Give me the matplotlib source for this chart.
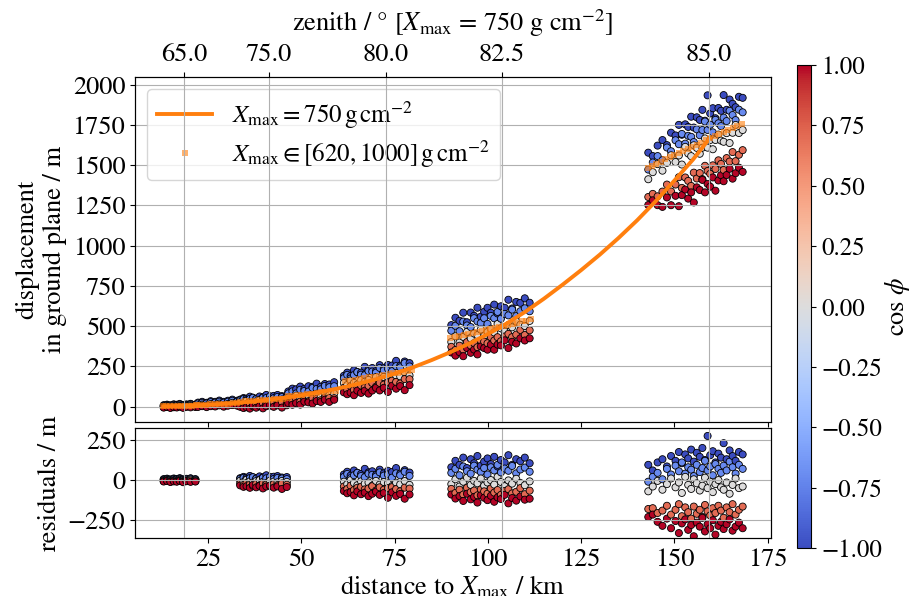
import numpy as np
import matplotlib
matplotlib.use("Agg")
import matplotlib.pyplot as plt
from matplotlib.ticker import FuncFormatter

plt.rcParams['font.family'] = ['STIXGeneral', 'DejaVu Serif']
plt.rcParams['mathtext.fontset'] = 'stix'
plt.rcParams['font.size'] = 19

# ---------------- data ----------------
cos_levels = [-1.0, -0.707, 0.0, 0.707, 1.0]

zenith_pos = [18.6, 41.3, 72.7, 103.8, 159.2]
zenith_labels = ["65.0", "75.0", "80.0", "82.5", "85.0"]

curve_dist = [13, 16, 20, 25, 30, 35, 40, 45, 50, 55, 60, 65, 70, 75, 80, 85, 90, 95,
              100, 105, 110, 115, 120, 125, 130, 135, 140, 145, 150, 155, 159.5]
curve_disp = [2, 4, 7, 12, 19, 28, 40, 54, 71, 91, 114, 140, 170, 205, 245, 290, 339, 392,
              451, 516, 589, 670, 757, 848, 944, 1047, 1157, 1276, 1404, 1535, 1668]

# cluster A (zenith 65)
A_dist = [13.1, 14.0, 14.9, 15.8, 16.6, 17.4, 18.3, 19.2, 20.3, 21.6]
A_sq_dist = [12.8, 13.8, 14.8, 15.8, 16.8, 17.8, 18.8, 19.8, 20.8, 21.8]
A_sq_disp = [3, 3.5, 4, 4.5, 5, 5.5, 6, 6.5, 7, 7.5]
A_res_m1 = [6, 9, 4, 10, 7, 12, 5, 8, 11, 6]
A_res_m07 = [3, 6, 2, 7, 4, 8, 1, 5, 9, 3]
A_res_0 = [-2, 1, -4, 0, -3, 2, -5, -1, 3, -2]
A_res_p07 = [-6, -3, -8, -4, -7, -2, -9, -5, -3, -7]
A_res_p1 = [-9, -6, -12, -8, -10, -5, -13, -7, -11, -9]

# cluster B (main panel only)
B_dist = [22.3, 23.4, 24.6, 25.7, 26.9, 28.0, 29.2, 30.3, 31.5, 32.8]
B_sq_dist = [22.0, 23.2, 24.4, 25.6, 26.8, 28.0, 29.2, 30.4, 31.6, 32.8]
B_sq_disp = [11, 12, 13, 14, 15, 16, 17, 18, 20, 21]
B_res_m1 = [14, 18, 11, 20, 15, 22, 13, 19, 24, 16]
B_res_m07 = [9, 12, 7, 14, 10, 15, 8, 13, 17, 11]
B_res_0 = [-3, 1, -6, 2, -4, 3, -7, -1, 4, -2]
B_res_p07 = [-9, -5, -12, -7, -10, -4, -13, -8, -6, -11]
B_res_p1 = [-13, -9, -16, -11, -14, -8, -17, -12, -10, -15]

# cluster C (zenith 75)
C_dist = [33.6, 34.5, 35.3, 36.2, 37.0, 37.9, 38.8, 39.7, 40.6, 41.6, 42.6, 43.6, 44.8, 46.1]
C_sq_dist = [33.5, 34.8, 36.1, 37.4, 38.7, 40.0, 41.3, 42.6, 43.9, 45.2, 46.3]
C_sq_disp = [32, 34, 36, 38, 40, 42, 44, 46, 48, 50, 52]
C_res_m1 = [12, 20, 15, 26, 18, 10, 23, 17, 30, 14, 21, 25, 16, 19]
C_res_m07 = [8, 14, 5, 12, 18, 9, 3, 15, 11, 20, 7, 13, 10, 6]
C_res_0 = [-4, -12, 2, -8, -15, -6, 0, -10, -18, -3, -9, -14, -5, -11]
C_res_p07 = [-22, -30, -18, -27, -35, -24, -32, -20, -28, -38, -25, -31, -21, -29]
C_res_p1 = [-33, -42, -38, -48, -30, -45, -36, -52, -40, -34, -47, -39, -55, -43]

# cluster D (main panel only)
D_dist = [46.5, 47.6, 48.6, 49.7, 50.8, 51.9, 53.0, 54.1, 55.2, 56.3, 57.5, 58.8]
D_sq_dist = [46.3, 47.6, 48.9, 50.2, 51.5, 52.8, 54.1, 55.4, 56.7, 58.0, 59.2]
D_sq_disp = [64, 67, 71, 74, 78, 81, 85, 88, 92, 95, 98]
D_res_m1 = [30, 45, 38, 52, 35, 48, 42, 58, 36, 50, 44, 55]
D_res_m07 = [18, 28, 12, 32, 22, 15, 35, 25, 20, 38, 27, 30]
D_res_0 = [-8, -20, -2, -15, -25, -10, -18, -5, -28, -12, -22, -16]
D_res_p07 = [-28, -38, -24, -42, -32, -45, -30, -36, -48, -34, -40, -44]
D_res_p1 = [-42, -55, -48, -60, -45, -52, -62, -50, -58, -47, -64, -54]

# cluster E (zenith 80)
E_dist = [61.4, 62.3, 63.2, 64.1, 65.0, 66.0, 67.0, 68.0, 69.0, 70.0, 71.0, 72.1, 73.2,
          74.3, 75.4, 76.5, 77.7, 79.0]
E_sq_dist = [61.7, 63.0, 64.3, 65.6, 66.9, 68.2, 69.5, 70.8, 72.1, 73.4, 74.7, 76.0, 77.3,
             78.6, 79.6]
E_sq_disp = [157, 162, 167, 172, 177, 182, 187, 192, 197, 202, 207, 212, 217, 222, 226]
E_res_m1 = [35, 52, 28, 60, 45, 38, 70, 48, 55, 32, 65, 42, 58, 50, 75, 40, 62, 47]
E_res_m07 = [20, 38, 12, 30, 45, 25, 18, 40, 33, 22, 48, 28, 35, 15, 42, 30, 52, 26]
E_res_0 = [-10, -25, 0, -18, -32, -8, -22, -15, -35, -5, -28, -12, -20, -38, -16, -26, -6, -30]
E_res_p07 = [-40, -55, -35, -62, -48, -42, -58, -52, -38, -65, -45, -60, -50, -44, -56, -70, -47, -53]
E_res_p1 = [-68, -82, -75, -95, -70, -88, -78, -100, -85, -72, -92, -80, -110, -76, -98, -86, -116, -90]

# cluster F (zenith 82.5)
F_dist = [90.2, 91.3, 92.4, 93.4, 94.4, 95.4, 96.3, 97.2, 98.1, 99.0, 99.9, 100.8, 101.7,
          102.6, 103.5, 104.5, 105.5, 106.5, 107.6, 108.7, 109.9, 111.2]
F_sq_dist = [89.9, 91.1, 92.3, 93.5, 94.7, 95.9, 97.1, 98.3, 99.5, 100.7, 101.9, 103.1, 104.3,
             105.5, 106.7, 107.9, 109.1, 110.3, 111.6]
F_sq_disp = [425, 431, 438, 444, 451, 457, 464, 470, 477, 483, 490, 496, 503, 509, 516, 522,
             529, 535, 543]
F_res_m1 = [80, 120, 95, 140, 75, 130, 105, 150, 90, 115, 135, 100, 145, 85, 125, 110, 155,
            95, 130, 118, 140, 105]
F_res_m07 = [45, 70, 30, 85, 55, 40, 90, 65, 50, 75, 35, 80, 60, 95, 48, 72, 58, 88, 42, 66,
             78, 52]
F_res_0 = [-25, 5, -40, -10, 15, -30, -5, -20, 10, -35, -15, 0, -28, 20, -12, -38, -2, -22,
           8, -18, -32, -8]
F_res_p07 = [-55, -80, -60, -90, -48, -75, -65, -95, -58, -70, -85, -52, -78, -62, -92, -68,
             -57, -83, -73, -50, -88, -66]
F_res_p1 = [-90, -115, -100, -130, -85, -120, -105, -140, -95, -110, -125, -98, -135, -108,
            -118, -92, -145, -112, -128, -102, -122, -116]

# cluster G (zenith 85)
G_dist = [143.0, 144.2, 145.5, 146.8, 148.0, 149.1, 150.3, 151.2, 152.0, 152.9, 153.7, 154.5,
          155.2, 156.0, 156.8, 157.5, 158.2, 158.9, 159.6, 160.3, 161.0, 161.8, 162.5, 163.2,
          164.0, 164.8, 165.6, 166.4, 167.3, 168.3]
G_sq_dist = [142.8, 144.0, 145.2, 146.4, 147.6, 148.8, 150.0, 151.2, 152.4, 153.6, 154.8,
             156.0, 157.2, 158.4, 159.6, 160.8, 162.0, 163.2, 164.4, 165.6, 166.8, 168.1]
G_sq_disp = [1480, 1494, 1508, 1521, 1535, 1548, 1561, 1575, 1588, 1601, 1614, 1627, 1640,
             1653, 1666, 1679, 1692, 1705, 1718, 1731, 1744, 1758]
G_res_m1 = [95, 60, 110, 130, 85, 150, 120, 175, 105, 160, 135, 190, 115, 170, 145, 200, 125,
            275, 155, 180, 110, 165, 140, 230, 130, 185, 150, 120, 175, 160]
G_res_m07 = [-10, 20, 45, 5, 70, 35, 90, 55, 110, 40, 80, 65, 25, 95, 50, 75, 120, 60, 85, 30,
             100, 70, 45, 90, 60, 115, 80, 40, 95, 70]
G_res_0 = [-70, -40, -5, -60, -25, 10, -45, -15, -80, 20, -30, -55, 5, -20, -65, -35, 15, -50,
           -10, -75, -25, 0, -45, -60, -15, -85, -30, 10, -50, -40]
G_res_p07 = [-180, -175, -205, -190, -160, -215, -185, -150, -225, -170, -200, -240, -165, -210,
             -185, -230, -155, -195, -220, -175, -205, -160, -190, -235, -170, -200, -150, -215,
             -185, -165]
G_res_p1 = [-230, -215, -260, -285, -240, -300, -255, -330, -270, -245, -310, -280, -350, -265,
            -290, -235, -320, -275, -300, -250, -340, -285, -260, -305, -275, -245, -315, -290,
            -265, -300]

clusters = [
    (A_dist, A_sq_dist, A_sq_disp, [A_res_m1, A_res_m07, A_res_0, A_res_p07, A_res_p1], True),
    (B_dist, B_sq_dist, B_sq_disp, [B_res_m1, B_res_m07, B_res_0, B_res_p07, B_res_p1], False),
    (C_dist, C_sq_dist, C_sq_disp, [C_res_m1, C_res_m07, C_res_0, C_res_p07, C_res_p1], True),
    (D_dist, D_sq_dist, D_sq_disp, [D_res_m1, D_res_m07, D_res_0, D_res_p07, D_res_p1], False),
    (E_dist, E_sq_dist, E_sq_disp, [E_res_m1, E_res_m07, E_res_0, E_res_p07, E_res_p1], True),
    (F_dist, F_sq_dist, F_sq_disp, [F_res_m1, F_res_m07, F_res_0, F_res_p07, F_res_p1], True),
    (G_dist, G_sq_dist, G_sq_disp, [G_res_m1, G_res_m07, G_res_0, G_res_p07, G_res_p1], True),
]

# ---------------- assemble ----------------
mx, my, mc = [], [], []
rx, ry, rc = [], [], []
sqx, sqy = [], []
for dist, sqd, sqv, bands, in_res in clusters:
    sqx += sqd
    sqy += sqv
    for i, d in enumerate(dist):
        model = np.interp(d, sqd, sqv)
        for lvl, band in zip(cos_levels, bands):
            mx.append(d); my.append(model + band[i]); mc.append(lvl)
            if in_res:
                rx.append(d); ry.append(band[i]); rc.append(lvl)

# ---------------- figure ----------------
fig = plt.figure(figsize=(9.12, 5.96), dpi=100)
ax = fig.add_axes([0.148, 0.292, 0.697, 0.579])
axr = fig.add_axes([0.148, 0.097, 0.697, 0.185])
cax = fig.add_axes([0.874, 0.080, 0.0155, 0.811])

xlim = (5.4, 175.8)
sc_kw = dict(cmap='coolwarm', vmin=-1, vmax=1, s=26, edgecolors='k', linewidths=0.6)

sc = ax.scatter(mx, my, c=mc, **sc_kw)
ax.plot(curve_dist, curve_disp, color='C1', lw=2.8, zorder=3,
        label=r"$X_\mathrm{max} = 750\,\mathrm{g\,cm^{-2}}$")
ax.plot(sqx, sqy, 's', color='C1', alpha=0.6, ms=4.5, mew=0, zorder=3,
        label=r"$X_\mathrm{max} \in [620, 1000]\,\mathrm{g\,cm^{-2}}$")
ax.set_xlim(*xlim)
ax.set_ylim(-95, 2048)
ax.set_yticks(np.arange(0, 2001, 250))
ax.set_xticks(np.arange(25, 176, 25))
ax.tick_params(labelbottom=False)
ax.grid(True, axis='y')
ax.set_ylabel("displacement\nin ground plane / m")
ax.legend(loc='upper left', fontsize=18, handlelength=2.2, borderpad=0.4,
          labelspacing=0.3, bbox_to_anchor=(0.0, 1.0))

axt = ax.twiny()
axt.set_xlim(*xlim)
axt.set_xticks(zenith_pos)
axt.set_xticklabels(zenith_labels)
axt.grid(True, axis='x')
axt.set_xlabel(r"zenith / ° [$X_\mathrm{max}$ = 750 g cm$^{-2}$]", labelpad=9)

axr.scatter(rx, ry, c=rc, **sc_kw)
axr.set_xlim(*xlim)
axr.set_ylim(-362, 325)
axr.set_yticks([-250, 0, 250])
axr.set_xticks(np.arange(25, 176, 25))
axr.grid(True, axis='y')
axr.set_xlabel(r"distance to $X_\mathrm{max}$ / km", labelpad=1)
axr.set_ylabel("residuals / m")

axrt = axr.twiny()
axrt.set_xlim(*xlim)
axrt.set_xticks(zenith_pos)
axrt.tick_params(top=False, labeltop=False)
axrt.grid(True, axis='x')

cb = fig.colorbar(sc, cax=cax)
cb.set_ticks(np.arange(-1, 1.01, 0.25))
cb.ax.yaxis.set_major_formatter(FuncFormatter(lambda v, p: f"{v:.2f}".replace('-', '\u2212')))
cb.ax.tick_params(labelsize=18)
cb.set_label(r"$\cos\,\phi$", labelpad=1)

fig.savefig("out.png", dpi=100)
